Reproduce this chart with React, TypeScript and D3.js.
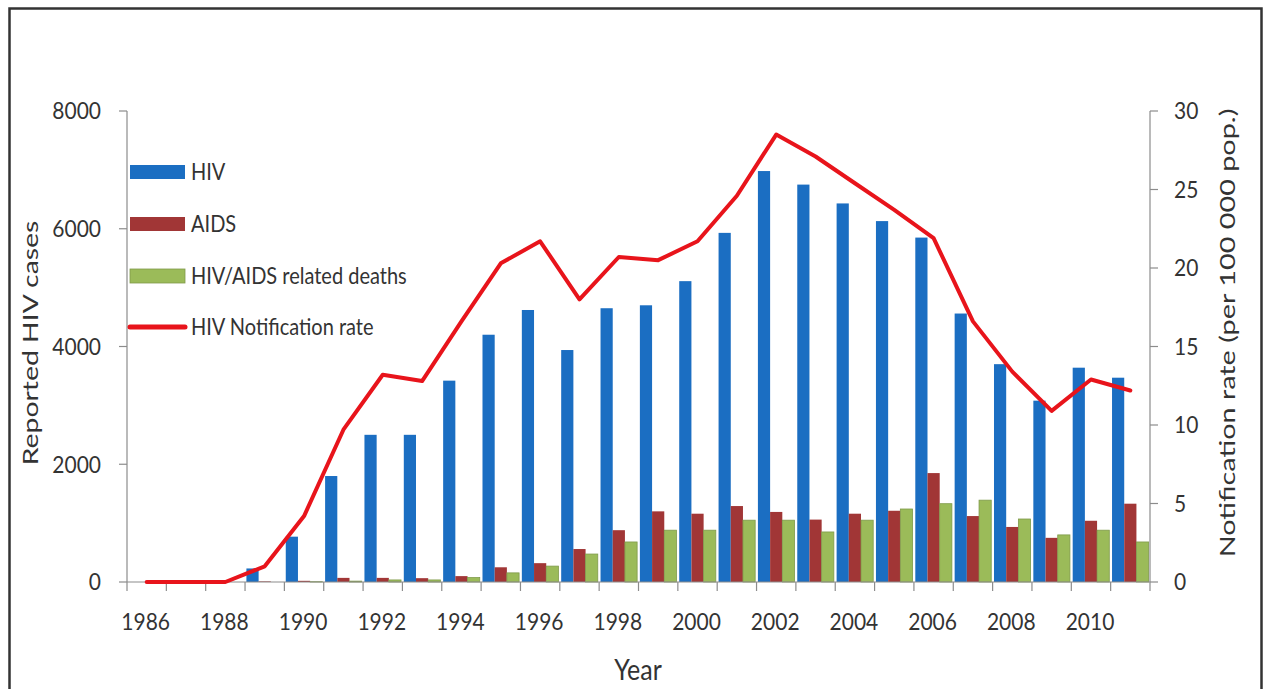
import React from "react";
import * as d3 from "d3";

// Reported HIV / AIDS figures per year
const years = [
  "1986", "1987", "1988", "1989", "1990", "1991", "1992", "1993", "1994",
  "1995", "1996", "1997", "1998", "1999", "2000", "2001", "2002", "2003",
  "2004", "2005", "2006", "2007", "2008", "2009", "2010", "2011",
];
const hivCases = [
  0, 5, 15, 230, 770, 1800, 2500, 2500, 3420, 4200, 4620, 3940, 4650, 4700,
  5110, 5930, 6980, 6750, 6430, 6130, 5850, 4560, 3700, 3080, 3640, 3470,
];
const aidsCases = [
  0, 0, 5, 10, 20, 70, 70, 65, 100, 250, 320, 560, 880, 1200, 1160, 1290,
  1190, 1060, 1160, 1210, 1850, 1120, 935, 750, 1040, 1330,
];
const relatedDeaths = [
  0, 0, 0, 0, 5, 15, 35, 35, 75, 155, 270, 475, 680, 880, 880, 1050, 1050,
  850, 1050, 1240, 1330, 1390, 1070, 800, 880, 680,
];
const notificationRate = [
  0, 0, 0, 1.0, 4.2, 9.7, 13.2, 12.8, 16.6, 20.3, 21.7, 18.0, 20.7, 20.5,
  21.7, 24.6, 28.5, 27.1, 25.4, 23.7, 21.9, 16.6, 13.4, 10.9, 12.9, 12.2,
];
const leftTicks = [0, 2000, 4000, 6000, 8000];
const rightTicks = [0, 5, 10, 15, 20, 25, 30];
const seriesNames = ["HIV", "AIDS", "HIV/AIDS related deaths"];
const lineName = "HIV Notification rate";

const W = 1269;
const H = 689;
const plot = { left: 127, right: 1150, top: 111, bottom: 582 };
const colors = ["#1b6ec2", "#a13636", "#9bbb59"];
const lineColor = "#e8141b";
const axisColor = "#8c8c8c";
const textColor = "#333333";
const font = "Lato, 'Open Sans', sans-serif";
const tall = 1.13; // vertical stretch of the lettering

type LabelProps = {
  x: number;
  y: number;
  size: number;
  anchor?: "start" | "middle" | "end";
  dy?: string;
  children: React.ReactNode;
};

// Horizontal label with slightly tall glyphs
function Label({ x, y, size, anchor = "start", dy, children }: LabelProps) {
  return (
    <text
      transform={`translate(${x},${y}) scale(1,${tall})`}
      textAnchor={anchor}
      dy={dy}
      fontSize={size}
      fill={textColor}
    >
      {children}
    </text>
  );
}

// Vertical title, read bottom to top, stretched along its length
function VTitle({ x, y, size, stretch, children }: { x: number; y: number; size: number; stretch: number; children: React.ReactNode }) {
  return (
    <text
      transform={`translate(${x},${y}) rotate(-90) scale(${stretch},1)`}
      textAnchor="middle"
      fontSize={size}
      fill={textColor}
    >
      {children}
    </text>
  );
}

export default function App() {
  const x = d3
    .scaleBand<string>()
    .domain(years)
    .range([plot.left, plot.right])
    .paddingInner(0.07)
    .paddingOuter(0.035);
  const step = x.step();
  const sub = d3
    .scaleBand<number>()
    .domain([0, 1, 2])
    .range([0, x.bandwidth()])
    .padding(0);
  const yL = d3.scaleLinear().domain([0, 8000]).range([plot.bottom, plot.top]);
  const yR = d3.scaleLinear().domain([0, 30]).range([plot.bottom, plot.top]);

  const series = [hivCases, aidsCases, relatedDeaths];
  const center = (y: string) => (x(y) as number) + x.bandwidth() / 2;
  const line = d3
    .line<number>()
    .x((_, i) => center(years[i]))
    .y((d) => yR(d))
    .curve(d3.curveLinear);

  // category boundaries for the x-axis tick marks
  const boundaries = d3.range(years.length + 1).map(
    (i) => plot.left + i * step
  );

  const legendX = 130;
  const legendY = [172, 224, 276, 327];

  return (
    <svg
      width={W}
      height={H}
      style={{ position: "absolute", left: 0, top: 0, background: "#fff" }}
      fontFamily={font}
    >
      <rect x={0} y={0} width={W} height={H} fill="#fff" />
      {/* outer frame */}
      <path
        d={`M9.5,${H + 5} V8.5 H1261.5 V${H + 5}`}
        fill="none"
        stroke="#333"
        strokeWidth={2.5}
      />

      {/* bars */}
      {series.map((vals, s) =>
        vals.map((v, i) => {
          const bx = (x(years[i]) as number) + (sub(s) as number);
          const by = yL(v);
          return (
            <rect
              key={`b${s}-${i}`}
              x={bx}
              y={by}
              width={sub.bandwidth()}
              height={plot.bottom - by}
              fill={colors[s]}
              stroke={s === 2 ? "#7f9a4a" : "none"}
              strokeWidth={s === 2 ? 0.8 : 0}
            />
          );
        })
      )}

      {/* left axis */}
      <line x1={plot.left} x2={plot.left} y1={plot.top} y2={plot.bottom} stroke={axisColor} strokeWidth={1.2} />
      {leftTicks.map((t) => (
        <g key={`l${t}`}>
          <line x1={plot.left - 8} x2={plot.left} y1={yL(t)} y2={yL(t)} stroke={axisColor} strokeWidth={1.2} />
          <Label x={plot.left - 26} y={yL(t)} dy="0.35em" anchor="end" size={21}>
            {t}
          </Label>
        </g>
      ))}

      {/* right axis */}
      <line x1={plot.right} x2={plot.right} y1={plot.top} y2={plot.bottom} stroke={axisColor} strokeWidth={1.2} />
      {rightTicks.map((t) => (
        <g key={`r${t}`}>
          <line x1={plot.right} x2={plot.right + 8} y1={yR(t)} y2={yR(t)} stroke={axisColor} strokeWidth={1.2} />
          <Label x={plot.right + 24} y={yR(t)} dy="0.35em" size={21}>
            {t}
          </Label>
        </g>
      ))}

      {/* x axis */}
      <line x1={plot.left} x2={plot.right} y1={plot.bottom} y2={plot.bottom} stroke={axisColor} strokeWidth={1.2} />
      {boundaries.map((bx, i) => (
        <line key={`t${i}`} x1={bx} x2={bx} y1={plot.bottom} y2={plot.bottom + 9} stroke={axisColor} strokeWidth={1.2} />
      ))}
      {years.map((yr, i) =>
        i % 2 === 0 ? (
          <Label key={`x${yr}`} x={center(yr) - 1} y={630} anchor="middle" size={21}>
            {yr}
          </Label>
        ) : null
      )}

      {/* notification rate line */}
      <path
        d={line(notificationRate) || ""}
        fill="none"
        stroke={lineColor}
        strokeWidth={4}
        strokeLinejoin="round"
        strokeLinecap="round"
      />

      {/* axis titles */}
      <VTitle x={38} y={343} size={22} stretch={1.29}>
        Reported HIV cases
      </VTitle>
      <VTitle x={1235} y={333} size={22} stretch={1.31}>
        Notification rate (per 100 000 pop.)
      </VTitle>
      <Label x={638} y={680} anchor="middle" size={25}>
        Year
      </Label>

      {/* legend */}
      {seriesNames.map((name, i) => (
        <g key={`lg${i}`}>
          <rect x={legendX} y={legendY[i] - 7} width={55} height={14} fill={colors[i]} stroke={i === 2 ? "#7f9a4a" : "none"} strokeWidth={0.8} />
          <Label x={legendX + 61} y={legendY[i]} dy="0.35em" size={20}>
            {name}
          </Label>
        </g>
      ))}
      <line
        x1={legendX}
        x2={legendX + 55}
        y1={legendY[3]}
        y2={legendY[3]}
        stroke={lineColor}
        strokeWidth={5}
        strokeLinecap="round"
      />
      <Label x={legendX + 61} y={legendY[3]} dy="0.35em" size={20}>
        {lineName}
      </Label>
    </svg>
  );
}
